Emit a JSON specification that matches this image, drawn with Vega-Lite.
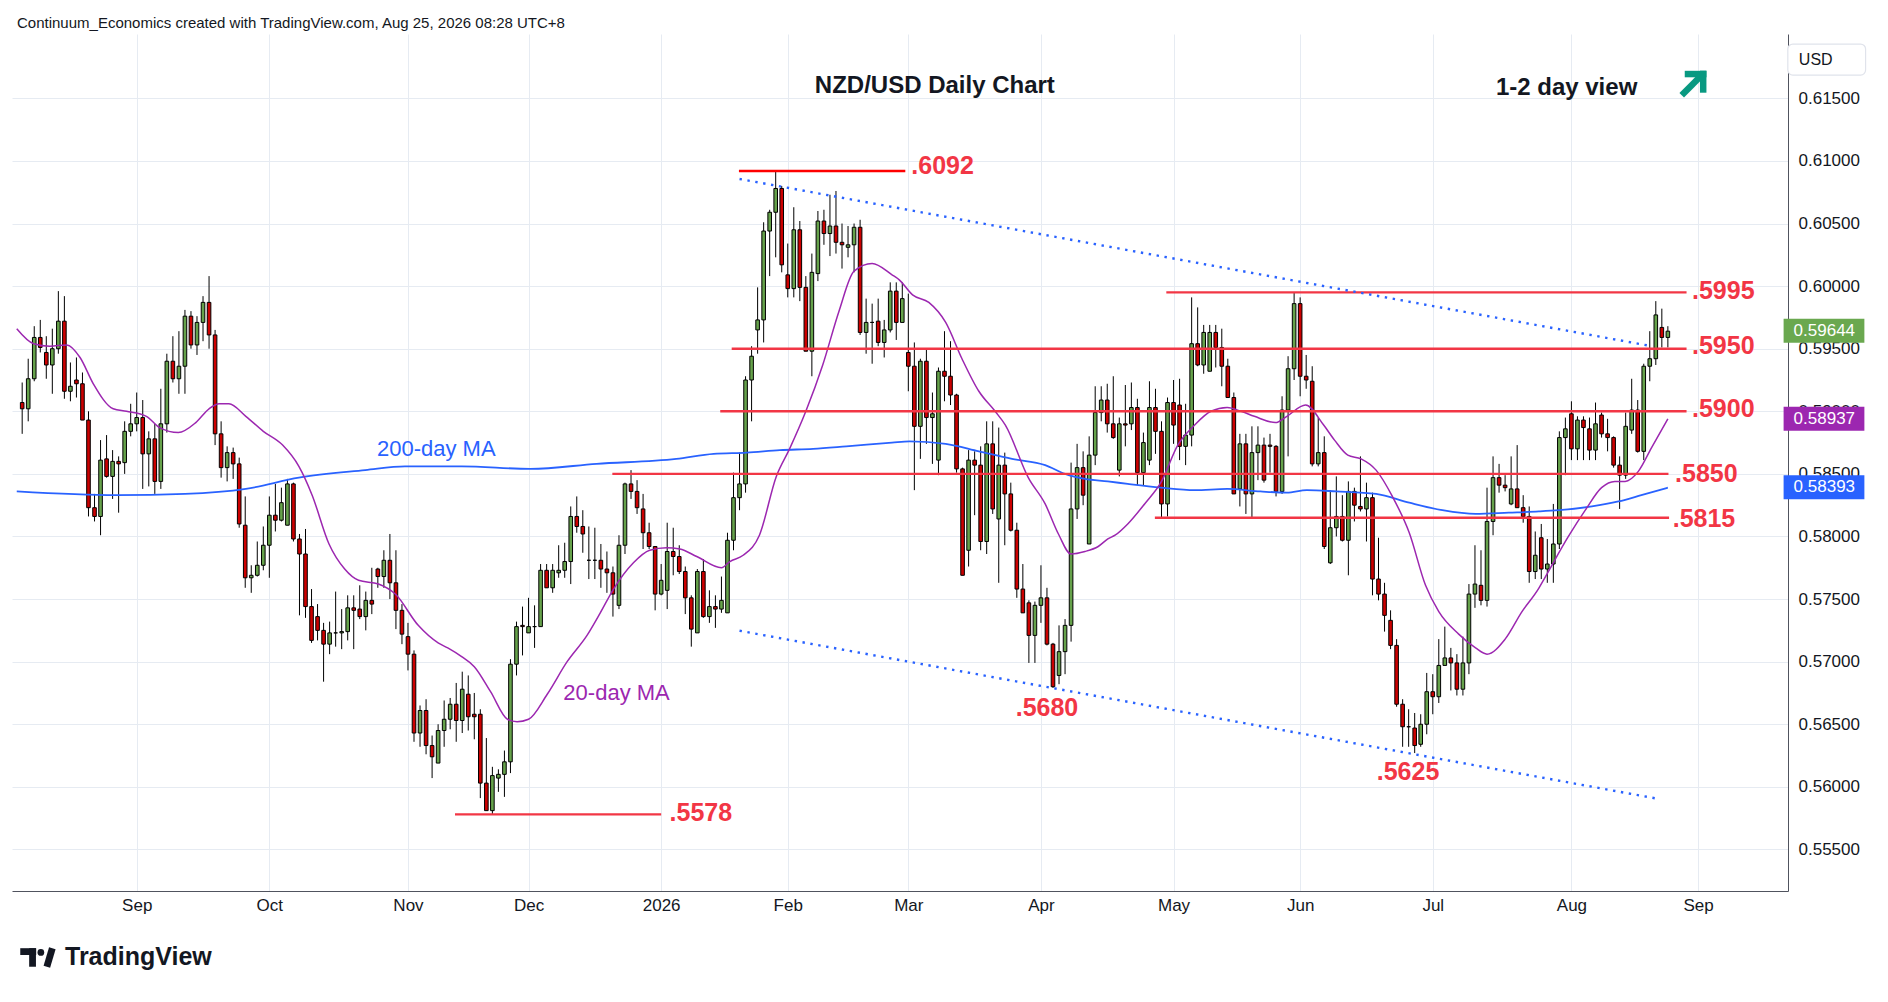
{
  "$schema": "https://vega.github.io/schema/vega-lite/v6.json",
  "description": "NZD/USD daily candlestick chart with 20-day and 200-day moving averages, support/resistance levels and a falling channel.",
  "width": 1776,
  "height": 857,
  "autosize": {"type": "none"},
  "padding": {"left": 12, "top": 34, "right": 100, "bottom": 111},
  "background": "#ffffff",
  "config": {"view": {"stroke": null}},
  "datasets": {
    "bars": [
      {"i":-19,"d":"2025-08-05","o":0.5907,"h":0.5923,"l":0.5882,"c":0.5902},
      {"i":-18,"d":"2025-08-06","o":0.5902,"h":0.5942,"l":0.5892,"c":0.5926},
      {"i":-17,"d":"2025-08-07","o":0.5926,"h":0.5968,"l":0.5924,"c":0.5959},
      {"i":-16,"d":"2025-08-08","o":0.5959,"h":0.5973,"l":0.5947,"c":0.5951},
      {"i":-15,"d":"2025-08-11","o":0.5947,"h":0.5960,"l":0.5926,"c":0.5937},
      {"i":-14,"d":"2025-08-12","o":0.5937,"h":0.5966,"l":0.5914,"c":0.5950},
      {"i":-13,"d":"2025-08-13","o":0.5950,"h":0.5996,"l":0.5946,"c":0.5972},
      {"i":-12,"d":"2025-08-14","o":0.5972,"h":0.5992,"l":0.5910,"c":0.5916},
      {"i":-11,"d":"2025-08-15","o":0.5916,"h":0.5939,"l":0.5908,"c":0.5920},
      {"i":-10,"d":"2025-08-18","o":0.5925,"h":0.5943,"l":0.5911,"c":0.5922},
      {"i":-9,"d":"2025-08-19","o":0.5922,"h":0.5931,"l":0.5893,"c":0.5893},
      {"i":-8,"d":"2025-08-20","o":0.5893,"h":0.5900,"l":0.5816,"c":0.5823},
      {"i":-7,"d":"2025-08-21","o":0.5823,"h":0.5834,"l":0.5812,"c":0.5816},
      {"i":-6,"d":"2025-08-22","o":0.5816,"h":0.5877,"l":0.5801,"c":0.5861},
      {"i":-5,"d":"2025-08-25","o":0.5862,"h":0.5881,"l":0.5847,"c":0.5848},
      {"i":-4,"d":"2025-08-26","o":0.5848,"h":0.5869,"l":0.5830,"c":0.5860},
      {"i":-3,"d":"2025-08-27","o":0.5860,"h":0.5864,"l":0.5819,"c":0.5858},
      {"i":-2,"d":"2025-08-28","o":0.5859,"h":0.5892,"l":0.5850,"c":0.5884},
      {"i":-1,"d":"2025-08-29","o":0.5884,"h":0.5906,"l":0.5880,"c":0.5890},
      {"i":0,"d":"2025-09-01","o":0.5890,"h":0.5915,"l":0.5884,"c":0.5895},
      {"i":1,"d":"2025-09-02","o":0.5895,"h":0.5909,"l":0.5838,"c":0.5866},
      {"i":2,"d":"2025-09-03","o":0.5866,"h":0.5884,"l":0.5840,"c":0.5878},
      {"i":3,"d":"2025-09-04","o":0.5878,"h":0.5890,"l":0.5834,"c":0.5844},
      {"i":4,"d":"2025-09-05","o":0.5844,"h":0.5918,"l":0.5838,"c":0.5890},
      {"i":5,"d":"2025-09-08","o":0.5890,"h":0.5946,"l":0.5883,"c":0.5940},
      {"i":6,"d":"2025-09-09","o":0.5940,"h":0.5960,"l":0.5923,"c":0.5926},
      {"i":7,"d":"2025-09-10","o":0.5926,"h":0.5964,"l":0.5914,"c":0.5936},
      {"i":8,"d":"2025-09-11","o":0.5936,"h":0.5981,"l":0.5914,"c":0.5976},
      {"i":9,"d":"2025-09-12","o":0.5976,"h":0.5980,"l":0.5950,"c":0.5953},
      {"i":10,"d":"2025-09-15","o":0.5953,"h":0.5976,"l":0.5945,"c":0.5971},
      {"i":11,"d":"2025-09-16","o":0.5971,"h":0.5992,"l":0.5956,"c":0.5987},
      {"i":12,"d":"2025-09-17","o":0.5987,"h":0.6008,"l":0.5950,"c":0.5961},
      {"i":13,"d":"2025-09-18","o":0.5961,"h":0.5965,"l":0.5873,"c":0.5882},
      {"i":14,"d":"2025-09-19","o":0.5882,"h":0.5892,"l":0.5847,"c":0.5855},
      {"i":15,"d":"2025-09-22","o":0.5855,"h":0.5872,"l":0.5844,"c":0.5867},
      {"i":16,"d":"2025-09-23","o":0.5867,"h":0.5871,"l":0.5846,"c":0.5858},
      {"i":17,"d":"2025-09-24","o":0.5858,"h":0.5863,"l":0.5807,"c":0.5810},
      {"i":18,"d":"2025-09-25","o":0.5809,"h":0.5832,"l":0.5759,"c":0.5767},
      {"i":19,"d":"2025-09-26","o":0.5767,"h":0.5777,"l":0.5755,"c":0.5769},
      {"i":20,"d":"2025-09-29","o":0.5769,"h":0.5796,"l":0.5768,"c":0.5777},
      {"i":21,"d":"2025-09-30","o":0.5777,"h":0.5808,"l":0.5773,"c":0.5793},
      {"i":22,"d":"2025-10-01","o":0.5793,"h":0.5832,"l":0.5767,"c":0.5817},
      {"i":23,"d":"2025-10-02","o":0.5817,"h":0.5842,"l":0.5804,"c":0.5813},
      {"i":24,"d":"2025-10-03","o":0.5813,"h":0.5839,"l":0.5812,"c":0.5827},
      {"i":25,"d":"2025-10-06","o":0.5809,"h":0.5846,"l":0.5809,"c":0.5842},
      {"i":26,"d":"2025-10-07","o":0.5842,"h":0.5843,"l":0.5796,"c":0.5798},
      {"i":27,"d":"2025-10-08","o":0.5798,"h":0.5802,"l":0.5737,"c":0.5786},
      {"i":28,"d":"2025-10-09","o":0.5786,"h":0.5806,"l":0.5735,"c":0.5744},
      {"i":29,"d":"2025-10-10","o":0.5744,"h":0.5758,"l":0.5715,"c":0.5717},
      {"i":30,"d":"2025-10-13","o":0.5736,"h":0.5746,"l":0.5717,"c":0.5725},
      {"i":31,"d":"2025-10-14","o":0.5725,"h":0.5731,"l":0.5684,"c":0.5714},
      {"i":32,"d":"2025-10-15","o":0.5714,"h":0.5732,"l":0.5706,"c":0.5723},
      {"i":33,"d":"2025-10-16","o":0.5723,"h":0.5756,"l":0.5712,"c":0.5723},
      {"i":34,"d":"2025-10-17","o":0.5723,"h":0.5742,"l":0.5710,"c":0.5724},
      {"i":35,"d":"2025-10-20","o":0.5724,"h":0.5753,"l":0.5717,"c":0.5743},
      {"i":36,"d":"2025-10-21","o":0.5743,"h":0.5753,"l":0.5710,"c":0.5741},
      {"i":37,"d":"2025-10-22","o":0.5742,"h":0.5761,"l":0.5734,"c":0.5736},
      {"i":38,"d":"2025-10-23","o":0.5736,"h":0.5756,"l":0.5725,"c":0.5749},
      {"i":39,"d":"2025-10-24","o":0.5749,"h":0.5775,"l":0.5738,"c":0.5746},
      {"i":40,"d":"2025-10-27","o":0.5774,"h":0.5775,"l":0.5759,"c":0.5768},
      {"i":41,"d":"2025-10-28","o":0.5768,"h":0.5789,"l":0.5759,"c":0.5781},
      {"i":42,"d":"2025-10-29","o":0.5781,"h":0.5802,"l":0.5750,"c":0.5763},
      {"i":43,"d":"2025-10-30","o":0.5763,"h":0.5789,"l":0.5726,"c":0.5741},
      {"i":44,"d":"2025-10-31","o":0.5741,"h":0.5746,"l":0.5714,"c":0.5722},
      {"i":45,"d":"2025-11-03","o":0.5720,"h":0.5731,"l":0.5693,"c":0.5706},
      {"i":46,"d":"2025-11-04","o":0.5706,"h":0.5709,"l":0.5636,"c":0.5643},
      {"i":47,"d":"2025-11-05","o":0.5643,"h":0.5665,"l":0.5632,"c":0.5661},
      {"i":48,"d":"2025-11-06","o":0.5661,"h":0.5670,"l":0.5626,"c":0.5633},
      {"i":49,"d":"2025-11-07","o":0.5633,"h":0.5641,"l":0.5607,"c":0.5624},
      {"i":50,"d":"2025-11-10","o":0.5619,"h":0.5650,"l":0.5619,"c":0.5645},
      {"i":51,"d":"2025-11-11","o":0.5645,"h":0.5669,"l":0.5632,"c":0.5654},
      {"i":52,"d":"2025-11-12","o":0.5654,"h":0.5671,"l":0.5646,"c":0.5666},
      {"i":53,"d":"2025-11-13","o":0.5666,"h":0.5683,"l":0.5636,"c":0.5653},
      {"i":54,"d":"2025-11-14","o":0.5653,"h":0.5692,"l":0.5643,"c":0.5678},
      {"i":55,"d":"2025-11-17","o":0.5674,"h":0.5689,"l":0.5645,"c":0.5656},
      {"i":56,"d":"2025-11-18","o":0.5658,"h":0.5675,"l":0.5638,"c":0.5656},
      {"i":57,"d":"2025-11-19","o":0.5658,"h":0.5662,"l":0.5591,"c":0.5603},
      {"i":58,"d":"2025-11-20","o":0.5603,"h":0.5639,"l":0.5581,"c":0.5581},
      {"i":59,"d":"2025-11-21","o":0.5581,"h":0.5616,"l":0.5578,"c":0.5609},
      {"i":60,"d":"2025-11-24","o":0.5607,"h":0.5614,"l":0.5596,"c":0.5610},
      {"i":61,"d":"2025-11-25","o":0.5610,"h":0.5629,"l":0.5592,"c":0.5620},
      {"i":62,"d":"2025-11-26","o":0.5620,"h":0.5702,"l":0.5611,"c":0.5698},
      {"i":63,"d":"2025-11-27","o":0.5698,"h":0.5732,"l":0.5689,"c":0.5728},
      {"i":64,"d":"2025-11-28","o":0.5729,"h":0.5744,"l":0.5705,"c":0.5728},
      {"i":65,"d":"2025-12-01","o":0.5723,"h":0.5751,"l":0.5723,"c":0.5728},
      {"i":66,"d":"2025-12-02","o":0.5728,"h":0.5745,"l":0.5711,"c":0.5728},
      {"i":67,"d":"2025-12-03","o":0.5728,"h":0.5778,"l":0.5728,"c":0.5773},
      {"i":68,"d":"2025-12-04","o":0.5773,"h":0.5778,"l":0.5759,"c":0.5759},
      {"i":69,"d":"2025-12-05","o":0.5759,"h":0.5778,"l":0.5755,"c":0.5773},
      {"i":70,"d":"2025-12-08","o":0.5771,"h":0.5793,"l":0.5767,"c":0.5773},
      {"i":71,"d":"2025-12-09","o":0.5773,"h":0.5795,"l":0.5767,"c":0.5780},
      {"i":72,"d":"2025-12-10","o":0.5780,"h":0.5824,"l":0.5762,"c":0.5816},
      {"i":73,"d":"2025-12-11","o":0.5816,"h":0.5832,"l":0.5803,"c":0.5808},
      {"i":74,"d":"2025-12-12","o":0.5808,"h":0.5821,"l":0.5787,"c":0.5802},
      {"i":75,"d":"2025-12-15","o":0.5781,"h":0.5808,"l":0.5766,"c":0.5781},
      {"i":76,"d":"2025-12-16","o":0.5781,"h":0.5807,"l":0.5766,"c":0.5781},
      {"i":77,"d":"2025-12-17","o":0.5781,"h":0.5794,"l":0.5759,"c":0.5774},
      {"i":78,"d":"2025-12-18","o":0.5774,"h":0.5788,"l":0.5755,"c":0.5771},
      {"i":79,"d":"2025-12-19","o":0.5771,"h":0.5776,"l":0.5736,"c":0.5754},
      {"i":80,"d":"2025-12-22","o":0.5745,"h":0.5801,"l":0.5742,"c":0.5793},
      {"i":81,"d":"2025-12-23","o":0.5793,"h":0.5843,"l":0.5786,"c":0.5842},
      {"i":82,"d":"2025-12-24","o":0.5842,"h":0.5853,"l":0.5830,"c":0.5836},
      {"i":83,"d":"2025-12-26","o":0.5836,"h":0.5845,"l":0.5818,"c":0.5823},
      {"i":84,"d":"2025-12-29","o":0.5822,"h":0.5834,"l":0.5790,"c":0.5803},
      {"i":85,"d":"2025-12-30","o":0.5803,"h":0.5811,"l":0.5790,"c":0.5792},
      {"i":86,"d":"2025-12-31","o":0.5792,"h":0.5792,"l":0.5741,"c":0.5754},
      {"i":87,"d":"2026-01-02","o":0.5754,"h":0.5778,"l":0.5753,"c":0.5765},
      {"i":88,"d":"2026-01-05","o":0.5757,"h":0.5811,"l":0.5742,"c":0.5788},
      {"i":89,"d":"2026-01-06","o":0.5788,"h":0.5807,"l":0.5769,"c":0.5784},
      {"i":90,"d":"2026-01-07","o":0.5784,"h":0.5793,"l":0.5770,"c":0.5772},
      {"i":91,"d":"2026-01-08","o":0.5772,"h":0.5776,"l":0.5738,"c":0.5751},
      {"i":92,"d":"2026-01-09","o":0.5751,"h":0.5753,"l":0.5712,"c":0.5726},
      {"i":93,"d":"2026-01-12","o":0.5723,"h":0.5774,"l":0.5723,"c":0.5772},
      {"i":94,"d":"2026-01-13","o":0.5772,"h":0.5782,"l":0.5735,"c":0.5736},
      {"i":95,"d":"2026-01-14","o":0.5736,"h":0.5757,"l":0.5731,"c":0.5744},
      {"i":96,"d":"2026-01-15","o":0.5744,"h":0.5753,"l":0.5727,"c":0.5742},
      {"i":97,"d":"2026-01-16","o":0.5742,"h":0.5768,"l":0.5739,"c":0.5749},
      {"i":98,"d":"2026-01-19","o":0.5739,"h":0.5803,"l":0.5739,"c":0.5797},
      {"i":99,"d":"2026-01-20","o":0.5797,"h":0.5851,"l":0.5789,"c":0.5831},
      {"i":100,"d":"2026-01-21","o":0.5831,"h":0.5867,"l":0.5821,"c":0.5842},
      {"i":101,"d":"2026-01-22","o":0.5842,"h":0.5928,"l":0.5835,"c":0.5925},
      {"i":102,"d":"2026-01-23","o":0.5925,"h":0.5952,"l":0.5892,"c":0.5944},
      {"i":103,"d":"2026-01-26","o":0.5965,"h":0.5999,"l":0.5946,"c":0.5973},
      {"i":104,"d":"2026-01-27","o":0.5973,"h":0.6051,"l":0.5955,"c":0.6044},
      {"i":105,"d":"2026-01-28","o":0.6044,"h":0.6061,"l":0.6008,"c":0.6059},
      {"i":106,"d":"2026-01-29","o":0.6059,"h":0.6092,"l":0.6023,"c":0.6078},
      {"i":107,"d":"2026-01-30","o":0.6078,"h":0.6080,"l":0.6011,"c":0.6017},
      {"i":108,"d":"2026-02-02","o":0.6009,"h":0.6034,"l":0.5991,"c":0.5998},
      {"i":109,"d":"2026-02-03","o":0.5998,"h":0.6063,"l":0.5991,"c":0.6045},
      {"i":110,"d":"2026-02-04","o":0.6045,"h":0.6052,"l":0.5988,"c":0.5999},
      {"i":111,"d":"2026-02-05","o":0.5999,"h":0.6008,"l":0.5948,"c":0.5948},
      {"i":112,"d":"2026-02-06","o":0.5948,"h":0.6026,"l":0.5928,"c":0.6011},
      {"i":113,"d":"2026-02-09","o":0.6010,"h":0.6060,"l":0.6004,"c":0.6052},
      {"i":114,"d":"2026-02-10","o":0.6052,"h":0.6061,"l":0.6033,"c":0.6042},
      {"i":115,"d":"2026-02-11","o":0.6042,"h":0.6073,"l":0.6024,"c":0.6048},
      {"i":116,"d":"2026-02-12","o":0.6048,"h":0.6076,"l":0.6026,"c":0.6035},
      {"i":117,"d":"2026-02-13","o":0.6035,"h":0.6050,"l":0.6014,"c":0.6033},
      {"i":118,"d":"2026-02-16","o":0.6031,"h":0.6048,"l":0.6023,"c":0.6033},
      {"i":119,"d":"2026-02-17","o":0.6033,"h":0.6050,"l":0.6011,"c":0.6047},
      {"i":120,"d":"2026-02-18","o":0.6047,"h":0.6053,"l":0.5961,"c":0.5963},
      {"i":121,"d":"2026-02-19","o":0.5963,"h":0.5990,"l":0.5946,"c":0.5971},
      {"i":122,"d":"2026-02-20","o":0.5971,"h":0.5986,"l":0.5938,"c":0.5971},
      {"i":123,"d":"2026-02-23","o":0.5972,"h":0.5990,"l":0.5952,"c":0.5955},
      {"i":124,"d":"2026-02-24","o":0.5955,"h":0.5973,"l":0.5943,"c":0.5965},
      {"i":125,"d":"2026-02-25","o":0.5965,"h":0.6003,"l":0.5963,"c":0.5996},
      {"i":126,"d":"2026-02-26","o":0.5996,"h":0.6003,"l":0.5957,"c":0.5971},
      {"i":127,"d":"2026-02-27","o":0.5971,"h":0.6003,"l":0.5971,"c":0.5990},
      {"i":128,"d":"2026-03-02","o":0.5947,"h":0.5994,"l":0.5916,"c":0.5936},
      {"i":129,"d":"2026-03-03","o":0.5936,"h":0.5955,"l":0.5837,"c":0.5888},
      {"i":130,"d":"2026-03-04","o":0.5888,"h":0.5942,"l":0.5862,"c":0.5940},
      {"i":131,"d":"2026-03-05","o":0.5940,"h":0.5949,"l":0.5874,"c":0.5895},
      {"i":132,"d":"2026-03-06","o":0.5895,"h":0.5915,"l":0.5858,"c":0.5898},
      {"i":133,"d":"2026-03-09","o":0.5861,"h":0.5935,"l":0.5849,"c":0.5932},
      {"i":134,"d":"2026-03-10","o":0.5932,"h":0.5964,"l":0.5908,"c":0.5928},
      {"i":135,"d":"2026-03-11","o":0.5928,"h":0.5956,"l":0.5905,"c":0.5913},
      {"i":136,"d":"2026-03-12","o":0.5913,"h":0.5914,"l":0.5851,"c":0.5854},
      {"i":137,"d":"2026-03-13","o":0.5854,"h":0.5855,"l":0.5769,"c":0.5769},
      {"i":138,"d":"2026-03-16","o":0.5789,"h":0.5869,"l":0.5776,"c":0.5861},
      {"i":139,"d":"2026-03-17","o":0.5861,"h":0.5868,"l":0.5817,"c":0.5857},
      {"i":140,"d":"2026-03-18","o":0.5857,"h":0.5872,"l":0.5789,"c":0.5796},
      {"i":141,"d":"2026-03-19","o":0.5796,"h":0.5892,"l":0.5786,"c":0.5874},
      {"i":142,"d":"2026-03-20","o":0.5874,"h":0.5892,"l":0.5818,"c":0.5822},
      {"i":143,"d":"2026-03-23","o":0.5814,"h":0.5887,"l":0.5763,"c":0.5857},
      {"i":144,"d":"2026-03-24","o":0.5857,"h":0.5867,"l":0.5793,"c":0.5834},
      {"i":145,"d":"2026-03-25","o":0.5834,"h":0.5843,"l":0.5804,"c":0.5805},
      {"i":146,"d":"2026-03-26","o":0.5805,"h":0.5811,"l":0.5751,"c":0.5758},
      {"i":147,"d":"2026-03-27","o":0.5758,"h":0.5778,"l":0.5739,"c":0.5739},
      {"i":148,"d":"2026-03-30","o":0.5747,"h":0.5749,"l":0.5699,"c":0.5721},
      {"i":149,"d":"2026-03-31","o":0.5721,"h":0.5748,"l":0.5699,"c":0.5745},
      {"i":150,"d":"2026-04-01","o":0.5745,"h":0.5777,"l":0.5731,"c":0.5751},
      {"i":151,"d":"2026-04-02","o":0.5751,"h":0.5759,"l":0.5713,"c":0.5714},
      {"i":152,"d":"2026-04-03","o":0.5714,"h":0.5715,"l":0.5679,"c":0.5680},
      {"i":153,"d":"2026-04-06","o":0.5689,"h":0.5729,"l":0.5682,"c":0.5708},
      {"i":154,"d":"2026-04-07","o":0.5708,"h":0.5734,"l":0.5690,"c":0.5729},
      {"i":155,"d":"2026-04-08","o":0.5729,"h":0.5859,"l":0.5716,"c":0.5822},
      {"i":156,"d":"2026-04-09","o":0.5822,"h":0.5874,"l":0.5814,"c":0.5855},
      {"i":157,"d":"2026-04-10","o":0.5855,"h":0.5868,"l":0.5825,"c":0.5833},
      {"i":158,"d":"2026-04-13","o":0.5794,"h":0.5880,"l":0.5794,"c":0.5865},
      {"i":159,"d":"2026-04-14","o":0.5865,"h":0.5920,"l":0.5857,"c":0.5899},
      {"i":160,"d":"2026-04-15","o":0.5899,"h":0.5920,"l":0.5892,"c":0.5909},
      {"i":161,"d":"2026-04-16","o":0.5909,"h":0.5922,"l":0.5883,"c":0.5890},
      {"i":162,"d":"2026-04-17","o":0.5890,"h":0.5928,"l":0.5878,"c":0.5879},
      {"i":163,"d":"2026-04-20","o":0.5853,"h":0.5895,"l":0.5848,"c":0.5890},
      {"i":164,"d":"2026-04-21","o":0.5890,"h":0.5921,"l":0.5872,"c":0.5889},
      {"i":165,"d":"2026-04-22","o":0.5890,"h":0.5923,"l":0.5885,"c":0.5903},
      {"i":166,"d":"2026-04-23","o":0.5903,"h":0.5910,"l":0.5841,"c":0.5851},
      {"i":167,"d":"2026-04-24","o":0.5851,"h":0.5883,"l":0.5841,"c":0.5875},
      {"i":168,"d":"2026-04-27","o":0.5861,"h":0.5924,"l":0.5857,"c":0.5903},
      {"i":169,"d":"2026-04-28","o":0.5903,"h":0.5918,"l":0.5866,"c":0.5884},
      {"i":170,"d":"2026-04-29","o":0.5884,"h":0.5892,"l":0.5815,"c":0.5826},
      {"i":171,"d":"2026-04-30","o":0.5826,"h":0.5911,"l":0.5816,"c":0.5907},
      {"i":172,"d":"2026-05-01","o":0.5907,"h":0.5925,"l":0.5874,"c":0.5889},
      {"i":173,"d":"2026-05-04","o":0.5905,"h":0.5926,"l":0.5861,"c":0.5872},
      {"i":174,"d":"2026-05-05","o":0.5872,"h":0.5906,"l":0.5857,"c":0.5881},
      {"i":175,"d":"2026-05-06","o":0.5881,"h":0.5991,"l":0.5872,"c":0.5954},
      {"i":176,"d":"2026-05-07","o":0.5954,"h":0.5983,"l":0.5936,"c":0.5937},
      {"i":177,"d":"2026-05-08","o":0.5937,"h":0.5969,"l":0.5930,"c":0.5963},
      {"i":178,"d":"2026-05-11","o":0.5932,"h":0.5969,"l":0.5932,"c":0.5963},
      {"i":179,"d":"2026-05-12","o":0.5963,"h":0.5969,"l":0.5935,"c":0.5951},
      {"i":180,"d":"2026-05-13","o":0.5951,"h":0.5966,"l":0.5920,"c":0.5936},
      {"i":181,"d":"2026-05-14","o":0.5936,"h":0.5942,"l":0.5911,"c":0.5911},
      {"i":182,"d":"2026-05-15","o":0.5911,"h":0.5915,"l":0.5834,"c":0.5834},
      {"i":183,"d":"2026-05-18","o":0.5838,"h":0.5882,"l":0.5824,"c":0.5874},
      {"i":184,"d":"2026-05-19","o":0.5874,"h":0.5882,"l":0.5818,"c":0.5834},
      {"i":185,"d":"2026-05-20","o":0.5834,"h":0.5888,"l":0.5815,"c":0.5867},
      {"i":186,"d":"2026-05-21","o":0.5867,"h":0.5888,"l":0.5845,"c":0.5873},
      {"i":187,"d":"2026-05-22","o":0.5873,"h":0.5879,"l":0.5843,"c":0.5845},
      {"i":188,"d":"2026-05-25","o":0.5873,"h":0.5882,"l":0.5851,"c":0.5872},
      {"i":189,"d":"2026-05-26","o":0.5872,"h":0.5873,"l":0.5832,"c":0.5836},
      {"i":190,"d":"2026-05-27","o":0.5836,"h":0.5912,"l":0.5834,"c":0.5901},
      {"i":191,"d":"2026-05-28","o":0.5901,"h":0.5944,"l":0.5864,"c":0.5934},
      {"i":192,"d":"2026-05-29","o":0.5934,"h":0.5995,"l":0.5925,"c":0.5986},
      {"i":193,"d":"2026-06-01","o":0.5986,"h":0.5991,"l":0.5912,"c":0.5928},
      {"i":194,"d":"2026-06-02","o":0.5928,"h":0.5945,"l":0.5918,"c":0.5925},
      {"i":195,"d":"2026-06-03","o":0.5924,"h":0.5936,"l":0.5856,"c":0.5858},
      {"i":196,"d":"2026-06-04","o":0.5858,"h":0.5895,"l":0.5856,"c":0.5867},
      {"i":197,"d":"2026-06-05","o":0.5867,"h":0.5880,"l":0.5790,"c":0.5792},
      {"i":198,"d":"2026-06-08","o":0.5779,"h":0.5837,"l":0.5778,"c":0.5807},
      {"i":199,"d":"2026-06-09","o":0.5807,"h":0.5848,"l":0.5800,"c":0.5816},
      {"i":200,"d":"2026-06-10","o":0.5816,"h":0.5833,"l":0.5796,"c":0.5797},
      {"i":201,"d":"2026-06-11","o":0.5797,"h":0.5844,"l":0.5769,"c":0.5836},
      {"i":202,"d":"2026-06-12","o":0.5836,"h":0.5839,"l":0.5812,"c":0.5825},
      {"i":203,"d":"2026-06-15","o":0.5824,"h":0.5864,"l":0.5820,"c":0.5822},
      {"i":204,"d":"2026-06-16","o":0.5822,"h":0.5843,"l":0.5796,"c":0.5831},
      {"i":205,"d":"2026-06-17","o":0.5831,"h":0.5835,"l":0.5753,"c":0.5766},
      {"i":206,"d":"2026-06-18","o":0.5766,"h":0.5799,"l":0.5749,"c":0.5754},
      {"i":207,"d":"2026-06-19","o":0.5754,"h":0.5763,"l":0.5724,"c":0.5737},
      {"i":208,"d":"2026-06-22","o":0.5733,"h":0.5741,"l":0.5710,"c":0.5713},
      {"i":209,"d":"2026-06-23","o":0.5713,"h":0.5718,"l":0.5664,"c":0.5666},
      {"i":210,"d":"2026-06-24","o":0.5666,"h":0.5670,"l":0.5632,"c":0.5648},
      {"i":211,"d":"2026-06-25","o":0.5648,"h":0.5662,"l":0.5632,"c":0.5648},
      {"i":212,"d":"2026-06-26","o":0.5647,"h":0.5659,"l":0.5627,"c":0.5633},
      {"i":213,"d":"2026-06-29","o":0.5634,"h":0.5658,"l":0.5632,"c":0.5650},
      {"i":214,"d":"2026-06-30","o":0.5650,"h":0.5691,"l":0.5642,"c":0.5676},
      {"i":215,"d":"2026-07-01","o":0.5676,"h":0.5690,"l":0.5658,"c":0.5672},
      {"i":216,"d":"2026-07-02","o":0.5672,"h":0.5718,"l":0.5667,"c":0.5697},
      {"i":217,"d":"2026-07-03","o":0.5697,"h":0.5728,"l":0.5697,"c":0.5703},
      {"i":218,"d":"2026-07-06","o":0.5703,"h":0.5711,"l":0.5677,"c":0.5699},
      {"i":219,"d":"2026-07-07","o":0.5699,"h":0.5706,"l":0.5673,"c":0.5678},
      {"i":220,"d":"2026-07-08","o":0.5678,"h":0.5720,"l":0.5673,"c":0.5699},
      {"i":221,"d":"2026-07-09","o":0.5699,"h":0.5762,"l":0.5690,"c":0.5754},
      {"i":222,"d":"2026-07-10","o":0.5754,"h":0.5793,"l":0.5743,"c":0.5762},
      {"i":223,"d":"2026-07-13","o":0.5761,"h":0.5789,"l":0.5745,"c":0.5749},
      {"i":224,"d":"2026-07-14","o":0.5749,"h":0.5839,"l":0.5744,"c":0.5812},
      {"i":225,"d":"2026-07-15","o":0.5812,"h":0.5864,"l":0.5801,"c":0.5847},
      {"i":226,"d":"2026-07-16","o":0.5847,"h":0.5858,"l":0.5835,"c":0.5841},
      {"i":227,"d":"2026-07-17","o":0.5841,"h":0.5849,"l":0.5836,"c":0.5839},
      {"i":228,"d":"2026-07-20","o":0.5826,"h":0.5864,"l":0.5825,"c":0.5838},
      {"i":229,"d":"2026-07-21","o":0.5838,"h":0.5873,"l":0.5823,"c":0.5823},
      {"i":230,"d":"2026-07-22","o":0.5823,"h":0.5833,"l":0.5811,"c":0.5816},
      {"i":231,"d":"2026-07-23","o":0.5816,"h":0.5824,"l":0.5763,"c":0.5772},
      {"i":232,"d":"2026-07-24","o":0.5772,"h":0.5804,"l":0.5766,"c":0.5785},
      {"i":233,"d":"2026-07-27","o":0.5799,"h":0.5810,"l":0.5766,"c":0.5774},
      {"i":234,"d":"2026-07-28","o":0.5774,"h":0.5798,"l":0.5763,"c":0.5778},
      {"i":235,"d":"2026-07-29","o":0.5778,"h":0.5826,"l":0.5763,"c":0.5794},
      {"i":236,"d":"2026-07-30","o":0.5794,"h":0.5884,"l":0.5790,"c":0.5879},
      {"i":237,"d":"2026-07-31","o":0.5879,"h":0.5895,"l":0.5849,"c":0.5886},
      {"i":238,"d":"2026-08-03","o":0.5898,"h":0.5908,"l":0.5861,"c":0.5870},
      {"i":239,"d":"2026-08-04","o":0.5870,"h":0.5896,"l":0.5861,"c":0.5893},
      {"i":240,"d":"2026-08-05","o":0.5893,"h":0.5896,"l":0.5861,"c":0.5887},
      {"i":241,"d":"2026-08-06","o":0.5886,"h":0.5895,"l":0.5861,"c":0.5869},
      {"i":242,"d":"2026-08-07","o":0.5869,"h":0.5907,"l":0.5861,"c":0.5890},
      {"i":243,"d":"2026-08-10","o":0.5897,"h":0.5899,"l":0.5879,"c":0.5882},
      {"i":244,"d":"2026-08-11","o":0.5882,"h":0.5894,"l":0.5868,"c":0.5879},
      {"i":245,"d":"2026-08-12","o":0.5879,"h":0.5880,"l":0.5855,"c":0.5857},
      {"i":246,"d":"2026-08-13","o":0.5857,"h":0.5864,"l":0.5822,"c":0.5849},
      {"i":247,"d":"2026-08-14","o":0.5849,"h":0.5899,"l":0.5846,"c":0.5888},
      {"i":248,"d":"2026-08-17","o":0.5885,"h":0.5926,"l":0.5882,"c":0.5901},
      {"i":249,"d":"2026-08-18","o":0.5901,"h":0.5909,"l":0.5867,"c":0.5868},
      {"i":250,"d":"2026-08-19","o":0.5868,"h":0.5938,"l":0.5861,"c":0.5936},
      {"i":251,"d":"2026-08-20","o":0.5936,"h":0.5964,"l":0.5924,"c":0.5942},
      {"i":252,"d":"2026-08-21","o":0.5942,"h":0.5988,"l":0.5937,"c":0.5977},
      {"i":253,"d":"2026-08-24","o":0.5967,"h":0.5982,"l":0.5951,"c":0.5959},
      {"i":254,"d":"2026-08-25","o":0.5959,"h":0.5968,"l":0.5951,"c":0.5964}
    ],
    "ma20": [
      {"i":-19.9,"p":0.5966},{"i":-17.1,"p":0.5954},{"i":-14.4,"p":0.5952},{"i":-11.6,"p":0.5953},
      {"i":-9.4,"p":0.5943},{"i":-7.2,"p":0.5922},{"i":-3.9,"p":0.5902},{"i":-1.7,"p":0.5900},
      {"i":1.6,"p":0.5896},{"i":3.8,"p":0.5887},{"i":6.9,"p":0.5883},{"i":9.8,"p":0.5891},
      {"i":12.0,"p":0.5902},{"i":13.7,"p":0.5906},{"i":15.3,"p":0.5906},{"i":18.1,"p":0.5896},
      {"i":21.0,"p":0.5884},{"i":24.2,"p":0.5873},{"i":26.9,"p":0.5856},{"i":29.1,"p":0.5833},
      {"i":31.9,"p":0.5794},{"i":34.5,"p":0.5774},{"i":36.8,"p":0.5765},{"i":40.1,"p":0.5762},
      {"i":42.9,"p":0.5754},{"i":46.7,"p":0.5729},{"i":50.0,"p":0.5715},{"i":51.6,"p":0.5711},
      {"i":53.9,"p":0.5704},{"i":56.0,"p":0.5696},{"i":58.7,"p":0.5676},{"i":61.5,"p":0.5654},
      {"i":63.1,"p":0.5652},{"i":65.0,"p":0.5654},{"i":68.1,"p":0.5674},{"i":71.4,"p":0.5700},
      {"i":74.7,"p":0.5721},{"i":76.9,"p":0.5739},{"i":79.1,"p":0.5758},{"i":82.4,"p":0.5779},
      {"i":85.1,"p":0.5789},{"i":87.9,"p":0.5791},{"i":90.1,"p":0.5790},{"i":92.9,"p":0.5784},
      {"i":97.0,"p":0.5775},{"i":98.4,"p":0.5780},{"i":100.6,"p":0.5785},{"i":103.3,"p":0.5801},
      {"i":106.1,"p":0.5848},{"i":108.3,"p":0.5870},{"i":111.0,"p":0.5900},{"i":113.8,"p":0.5937},
      {"i":116.5,"p":0.5980},{"i":119.0,"p":0.6012},{"i":122.0,"p":0.6018},{"i":125.3,"p":0.6009},
      {"i":126.5,"p":0.6005},{"i":128.7,"p":0.5993},{"i":131.4,"p":0.5987},{"i":134.2,"p":0.5971},
      {"i":136.9,"p":0.5942},{"i":139.7,"p":0.5916},{"i":142.4,"p":0.5900},{"i":144.1,"p":0.5889},
      {"i":147.9,"p":0.5847},{"i":150.7,"p":0.5826},{"i":152.9,"p":0.5802},{"i":155.0,"p":0.5786},
      {"i":157.3,"p":0.5788},{"i":159.5,"p":0.5792},{"i":161.1,"p":0.5798},{"i":162.3,"p":0.5801},
      {"i":164.4,"p":0.5810},{"i":167.2,"p":0.5826},{"i":170.0,"p":0.5844},{"i":172.7,"p":0.5873},
      {"i":175.5,"p":0.5889},{"i":178.2,"p":0.5900},{"i":180.9,"p":0.5903},{"i":183.2,"p":0.5900},
      {"i":185.4,"p":0.5896},{"i":188.9,"p":0.5891},{"i":190.8,"p":0.5896},{"i":193.9,"p":0.5905},
      {"i":196.9,"p":0.5889},{"i":198.7,"p":0.5877},{"i":200.9,"p":0.5865},{"i":203.1,"p":0.5862},
      {"i":205.6,"p":0.5853},{"i":208.3,"p":0.5832},{"i":211.1,"p":0.5803},{"i":213.8,"p":0.5761},
      {"i":216.0,"p":0.5740},{"i":219.3,"p":0.5722},{"i":222.1,"p":0.5711},{"i":224.0,"p":0.5706},
      {"i":227.0,"p":0.5718},{"i":229.8,"p":0.5740},{"i":232.5,"p":0.5758},{"i":233.7,"p":0.5768},
      {"i":237.5,"p":0.5800},{"i":240.3,"p":0.5821},{"i":243.0,"p":0.5839},{"i":245.2,"p":0.5844},
      {"i":246.9,"p":0.5844},{"i":249.1,"p":0.5852},{"i":251.3,"p":0.5871},{"i":254.0,"p":0.5894}
    ],
    "ma200": [
      {"i":-19.9,"p":0.5836},{"i":-3.4,"p":0.5833},{"i":8.0,"p":0.5834},{"i":18.1,"p":0.5838},
      {"i":26.9,"p":0.5847},{"i":37.9,"p":0.5853},{"i":44.5,"p":0.5856},{"i":53.9,"p":0.5856},
      {"i":65.3,"p":0.5854},{"i":76.3,"p":0.5858},{"i":89.5,"p":0.5862},{"i":95.7,"p":0.5866},
      {"i":101.2,"p":0.5867},{"i":106.7,"p":0.5869},{"i":112.2,"p":0.5870},{"i":117.7,"p":0.5872},
      {"i":125.3,"p":0.5875},{"i":128.2,"p":0.5876},{"i":134.2,"p":0.5874},{"i":139.7,"p":0.5868},
      {"i":145.2,"p":0.5862},{"i":150.7,"p":0.5857},{"i":154.0,"p":0.5850},{"i":157.3,"p":0.5846},
      {"i":161.1,"p":0.5844},{"i":164.4,"p":0.5842},{"i":169.9,"p":0.5839},{"i":175.5,"p":0.5837},
      {"i":180.9,"p":0.5838},{"i":186.4,"p":0.5836},{"i":190.8,"p":0.5835},{"i":194.1,"p":0.5837},
      {"i":199.0,"p":0.5836},{"i":205.6,"p":0.5834},{"i":211.1,"p":0.5827},{"i":216.6,"p":0.5821},
      {"i":222.1,"p":0.5818},{"i":227.6,"p":0.5819},{"i":232.6,"p":0.5820},{"i":235.9,"p":0.5821},
      {"i":241.4,"p":0.5824},{"i":245.8,"p":0.5828},{"i":249.6,"p":0.5833},{"i":254.0,"p":0.5839}
    ],
    "levels": [
      {"name":".6092","p":0.6092,"i":99.9,"i2":127.5},
      {"name":".5995","p":0.5995,"i":170.8,"i2":257.1},
      {"name":".5950","p":0.5950,"i":98.7,"i2":257.1},
      {"name":".5900","p":0.5900,"i":96.8,"i2":257.1},
      {"name":".5850","p":0.5850,"i":78.9,"i2":254.1},
      {"name":".5815","p":0.5815,"i":168.9,"i2":254.2},
      {"name":".5578","p":0.5578,"i":52.8,"i2":87.0}
    ],
    "trend": [
      {"line":"upper","i":100.0,"p":0.60856,"i2":250.9,"p2":0.59524},
      {"line":"lower","i":100.0,"p":0.57247,"i2":252.2,"p2":0.55906}
    ],
    "glyphs": [
      {"part":"logo","i":-19.32,"p":0.54684,"i2":-16.68,"p2":0.54684},
      {"part":"logo","i":-17.28,"p":0.54711,"i2":-17.28,"p2":0.54563},
      {"part":"logo","i":-14.91,"p":0.54563,"i2":-14.0,"p2":0.54711},
      {"part":"arrow","i":256.3,"p":0.61525,"i2":259.6,"p2":0.61685},
      {"part":"arrow","i":256.8,"p":0.61694,"i2":260.4,"p2":0.61694},
      {"part":"arrow","i":259.86,"p":0.61721,"i2":259.86,"p2":0.61545}
    ],
    "dots": [
      {"part":"logo","i":-15.9,"p":0.54677}
    ],
    "notes": [
      {"kind":"level","t":".6092","i":128.5,"p":0.6096},
      {"kind":"level","t":".5995","i":258.0,"p":0.5996},
      {"kind":"level","t":".5950","i":258.0,"p":0.5952},
      {"kind":"level","t":".5900","i":258.0,"p":0.5902},
      {"kind":"level","t":".5850","i":255.2,"p":0.5850},
      {"kind":"level","t":".5815","i":254.8,"p":0.5814},
      {"kind":"level","t":".5578","i":88.4,"p":0.5579},
      {"kind":"low","t":".5680","i":151.0,"p":0.5663},
      {"kind":"low","t":".5625","i":210.9,"p":0.5612},
      {"kind":"head","t":"NZD/USD Daily Chart","i":132.4,"p":0.6160},
      {"kind":"head","t":"1-2 day view","i":237.2,"p":0.6158},
      {"kind":"ma200","t":"200-day MA","i":49.7,"p":0.5870},
      {"kind":"ma20","t":"20-day MA","i":79.6,"p":0.5675},
      {"kind":"credit","t":"Continuum_Economics created with TradingView.com, Aug 25, 2026 08:28 UTC+8","i":-19.86,"p":0.6210},
      {"kind":"brand","t":"TradingView","i":-11.9,"p":0.5464},
      {"kind":"unit","t":"USD","i":273.9,"p":0.6181}
    ],
    "tags": [
      {"s":"last","t":"0.59644","i":273.2,"p":0.59644},
      {"s":"ma20","t":"0.58937","i":273.2,"p":0.58940},
      {"s":"ma200","t":"0.58393","i":273.2,"p":0.58393}
    ]
  },
  "encoding": {
    "x": {
      "field": "i",
      "type": "quantitative",
      "scale": {"domain": [-19.86, 273.1], "nice": false, "zero": false},
      "axis": {
        "orient": "bottom",
        "title": null,
        "values": [0, 22, 45, 65, 87, 108, 128, 150, 172, 193, 215, 238, 259],
        "labelExpr": "['Sep','Oct','Nov','Dec','2026','Feb','Mar','Apr','May','Jun','Jul','Aug','Sep'][indexof([0,22,45,65,87,108,128,150,172,193,215,238,259], datum.value)]",
        "ticks": false,
        "labelPadding": 6,
        "labelFont": "Liberation Sans",
        "labelFontSize": 17,
        "labelColor": "#131722",
        "labelFlush": false,
        "gridColor": "#e6ebf2",
        "domainColor": "#50535e"
      }
    }
  },
  "layer": [
    {
      "data": {"name": "bars"},
      "mark": {"type": "rule", "color": "#000000", "strokeWidth": 1},
      "encoding": {
        "y": {
          "field": "l",
          "type": "quantitative",
          "title": null,
          "scale": {"domain": [0.55208, 0.61974], "nice": false, "zero": false},
          "axis": {
            "orient": "right",
            "title": null,
            "values": [0.555, 0.56, 0.565, 0.57, 0.575, 0.58, 0.585, 0.59, 0.595, 0.6, 0.605, 0.61, 0.615],
            "format": ".5f",
            "ticks": false,
            "labelPadding": 10,
            "labelFont": "Liberation Sans",
            "labelFontSize": 17,
            "labelColor": "#131722",
            "labelFlush": false,
            "gridColor": "#e6ebf2",
            "domainColor": "#50535e"
          }
        },
        "y2": {"field": "h"}
      }
    },
    {
      "data": {"name": "bars"},
      "mark": {"type": "bar", "size": 3.6, "stroke": "#000000", "strokeWidth": 1},
      "encoding": {
        "y": {"field": "o", "type": "quantitative", "title": null, "scale": {"domain": [0.55208, 0.61974], "nice": false, "zero": false}},
        "y2": {"field": "c"},
        "color": {"condition": {"test": "datum.c >= datum.o", "value": "#66a24b"}, "value": "#cc0000"}
      }
    },
    {
      "data": {"name": "ma200"},
      "mark": {"type": "line", "color": "#2962ff", "strokeWidth": 1.8, "interpolate": "monotone"},
      "encoding": {
        "y": {"field": "p", "type": "quantitative", "title": null, "scale": {"domain": [0.55208, 0.61974], "nice": false, "zero": false}}
      }
    },
    {
      "data": {"name": "ma20"},
      "mark": {"type": "line", "color": "#9c27b0", "strokeWidth": 1.5, "interpolate": "monotone"},
      "encoding": {
        "y": {"field": "p", "type": "quantitative", "title": null, "scale": {"domain": [0.55208, 0.61974], "nice": false, "zero": false}}
      }
    },
    {
      "data": {"name": "levels"},
      "transform": [{"filter": "datum.name != '.6092'"}],
      "mark": {"type": "rule", "color": "#f23645", "strokeWidth": 2.4},
      "encoding": {
        "x2": {"field": "i2"},
        "y": {"field": "p", "type": "quantitative", "title": null, "scale": {"domain": [0.55208, 0.61974], "nice": false, "zero": false}}
      }
    },
    {
      "data": {"name": "levels"},
      "transform": [{"filter": "datum.name == '.6092'"}],
      "mark": {"type": "rule", "color": "#ff0000", "strokeWidth": 2.4},
      "encoding": {
        "x2": {"field": "i2"},
        "y": {"field": "p", "type": "quantitative", "title": null, "scale": {"domain": [0.55208, 0.61974], "nice": false, "zero": false}}
      }
    },
    {
      "data": {"name": "trend"},
      "mark": {"type": "rule", "color": "#2962ff", "strokeWidth": 2.4, "strokeDash": [2.4, 5.6]},
      "encoding": {
        "x2": {"field": "i2"},
        "y": {"field": "p", "type": "quantitative", "title": null, "scale": {"domain": [0.55208, 0.61974], "nice": false, "zero": false}},
        "y2": {"field": "p2"}
      }
    },
    {
      "data": {"name": "notes"},
      "transform": [{"filter": "datum.kind == 'level'"}],
      "mark": {"type": "text", "align": "left", "baseline": "middle", "font": "Liberation Sans", "fontWeight": "bold", "fontSize": 25, "color": "#f23645"},
      "encoding": {
        "y": {"field": "p", "type": "quantitative", "title": null, "scale": {"domain": [0.55208, 0.61974], "nice": false, "zero": false}},
        "text": {"field": "t"}
      }
    },
    {
      "data": {"name": "notes"},
      "transform": [{"filter": "datum.kind == 'low'"}],
      "mark": {"type": "text", "align": "center", "baseline": "middle", "font": "Liberation Sans", "fontWeight": "bold", "fontSize": 25, "color": "#f23645"},
      "encoding": {
        "y": {"field": "p", "type": "quantitative", "title": null, "scale": {"domain": [0.55208, 0.61974], "nice": false, "zero": false}},
        "text": {"field": "t"}
      }
    },
    {
      "data": {"name": "notes"},
      "transform": [{"filter": "datum.kind == 'head'"}],
      "mark": {"type": "text", "align": "center", "baseline": "middle", "font": "Liberation Sans", "fontWeight": "bold", "fontSize": 24, "color": "#131722"},
      "encoding": {
        "y": {"field": "p", "type": "quantitative", "title": null, "scale": {"domain": [0.55208, 0.61974], "nice": false, "zero": false}},
        "text": {"field": "t"}
      }
    },
    {
      "data": {"name": "glyphs"},
      "transform": [{"filter": "datum.part == 'arrow'"}],
      "mark": {"type": "rule", "color": "#089981", "strokeWidth": 6.5, "strokeCap": "butt"},
      "encoding": {
        "x2": {"field": "i2"},
        "y": {"field": "p", "type": "quantitative", "title": null, "scale": {"domain": [0.55208, 0.61974], "nice": false, "zero": false}},
        "y2": {"field": "p2"}
      }
    },
    {
      "data": {"name": "notes"},
      "transform": [{"filter": "datum.kind == 'ma200'"}],
      "mark": {"type": "text", "align": "center", "baseline": "middle", "font": "Liberation Sans", "fontSize": 22, "color": "#2962ff"},
      "encoding": {
        "y": {"field": "p", "type": "quantitative", "title": null, "scale": {"domain": [0.55208, 0.61974], "nice": false, "zero": false}},
        "text": {"field": "t"}
      }
    },
    {
      "data": {"name": "notes"},
      "transform": [{"filter": "datum.kind == 'ma20'"}],
      "mark": {"type": "text", "align": "center", "baseline": "middle", "font": "Liberation Sans", "fontSize": 22, "color": "#9c27b0"},
      "encoding": {
        "y": {"field": "p", "type": "quantitative", "title": null, "scale": {"domain": [0.55208, 0.61974], "nice": false, "zero": false}},
        "text": {"field": "t"}
      }
    },
    {
      "data": {"name": "notes"},
      "transform": [{"filter": "datum.kind == 'credit'"}],
      "mark": {"type": "text", "align": "left", "baseline": "middle", "font": "Liberation Sans", "fontSize": 15, "color": "#131722"},
      "encoding": {
        "y": {"field": "p", "type": "quantitative", "title": null, "scale": {"domain": [0.55208, 0.61974], "nice": false, "zero": false}},
        "text": {"field": "t"}
      }
    },
    {
      "data": {"name": "notes"},
      "transform": [{"filter": "datum.kind == 'brand'"}],
      "mark": {"type": "text", "align": "left", "baseline": "middle", "font": "Liberation Sans", "fontWeight": "bold", "fontSize": 25, "color": "#131722"},
      "encoding": {
        "y": {"field": "p", "type": "quantitative", "title": null, "scale": {"domain": [0.55208, 0.61974], "nice": false, "zero": false}},
        "text": {"field": "t"}
      }
    },
    {
      "data": {"name": "glyphs"},
      "transform": [{"filter": "datum.part == 'logo'"}],
      "mark": {"type": "rule", "color": "#131722", "strokeWidth": 6.8, "strokeCap": "butt"},
      "encoding": {
        "x2": {"field": "i2"},
        "y": {"field": "p", "type": "quantitative", "title": null, "scale": {"domain": [0.55208, 0.61974], "nice": false, "zero": false}},
        "y2": {"field": "p2"}
      }
    },
    {
      "data": {"name": "dots"},
      "mark": {"type": "point", "shape": "circle", "filled": true, "size": 45, "color": "#131722", "opacity": 1},
      "encoding": {
        "y": {"field": "p", "type": "quantitative", "title": null, "scale": {"domain": [0.55208, 0.61974], "nice": false, "zero": false}}
      }
    },
    {
      "data": {"name": "notes"},
      "transform": [{"filter": "datum.kind == 'unit'"}],
      "mark": {"type": "bar", "size": 31, "fill": "#ffffff", "stroke": "#e0e3eb", "strokeWidth": 1.2, "cornerRadius": 5},
      "encoding": {
        "x2": {"datum": 286.8},
        "y": {"field": "p", "type": "quantitative", "title": null, "scale": {"domain": [0.55208, 0.61974], "nice": false, "zero": false}}
      }
    },
    {
      "data": {"name": "notes"},
      "transform": [{"filter": "datum.kind == 'unit'"}],
      "mark": {"type": "text", "align": "left", "baseline": "middle", "dx": 11, "font": "Liberation Sans", "fontSize": 16, "color": "#131722"},
      "encoding": {
        "y": {"field": "p", "type": "quantitative", "title": null, "scale": {"domain": [0.55208, 0.61974], "nice": false, "zero": false}},
        "text": {"field": "t"}
      }
    },
    {
      "data": {"name": "tags"},
      "mark": {"type": "bar", "size": 24},
      "encoding": {
        "x2": {"datum": 286.6},
        "y": {"field": "p", "type": "quantitative", "title": null, "scale": {"domain": [0.55208, 0.61974], "nice": false, "zero": false}},
        "color": {"field": "s", "type": "nominal", "scale": {"domain": ["last", "ma20", "ma200"], "range": ["#6aa84f", "#9c27b0", "#2962ff"]}, "legend": null}
      }
    },
    {
      "data": {"name": "tags"},
      "mark": {"type": "text", "align": "left", "baseline": "middle", "dx": 10, "font": "Liberation Sans", "fontSize": 17, "color": "#ffffff"},
      "encoding": {
        "y": {"field": "p", "type": "quantitative", "title": null, "scale": {"domain": [0.55208, 0.61974], "nice": false, "zero": false}},
        "text": {"field": "t"}
      }
    }
  ]
}
